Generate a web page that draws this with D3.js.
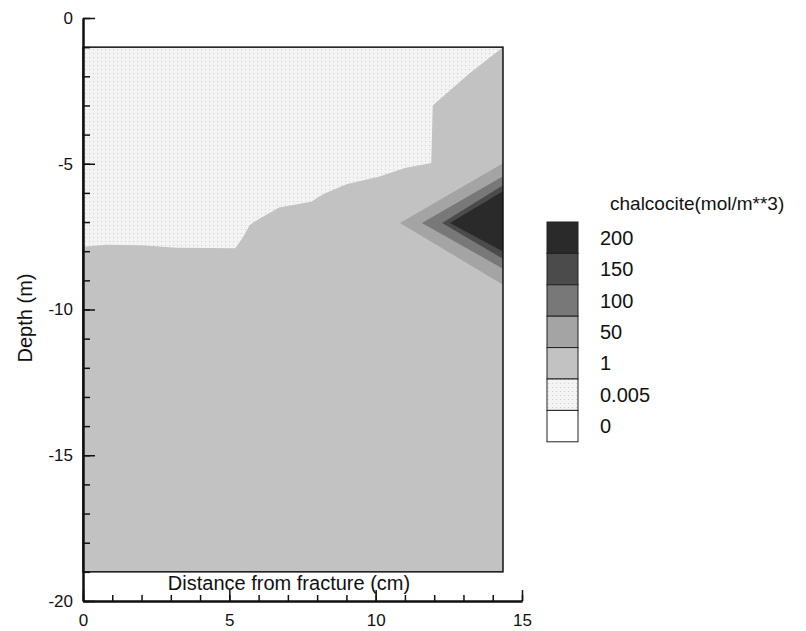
<!DOCTYPE html>
<html>
<head>
<meta charset="utf-8">
<script src="https://cdn.jsdelivr.net/npm/d3@7"></script>
<style>
  body { margin: 0; background: #fff; }
  text { font-family: "Liberation Sans", Arial, Helvetica, sans-serif; fill: #111; }
</style>
</head>
<body>
<div class="canvas"></div>
<script>
// contour levels, darkest first (legend order)
const levelLabels = ['200', '150', '100', '50', '1', '0.005', '0'];
const levelColors = ['#2a2a2a', '#4b4b4b', '#787878', '#a4a4a4', '#c2c2c2', '#f3f3f3', '#ffffff'];

// model domain (cm, m)
const xExtent = [0, 14.35];
const depthExtent = [-1, -19];

// region >= 1 : boundary with the upper 0.005 zone, then right/bottom edges
const region1 = [[0, -7.85], [0.8, -7.78], [2, -7.8], [3.2, -7.88], [5.2, -7.9], [5.45, -7.55],
  [5.7, -7.1], [6.0, -6.9], [6.7, -6.5], [7.8, -6.3], [8.2, -6.05], [9.0, -5.7], [10.1, -5.45],
  [11.0, -5.15], [11.9, -4.97], [11.95, -3.0], [13.2, -1.9], [14.35, -1.0], [14.35, -19], [0, -19]];

// nested wedges at the right edge
const region50 = [[10.83, -7.03], [14.35, -4.98], [14.35, -9.15]];
const region100 = [[11.58, -7.03], [14.35, -5.43], [14.35, -8.6]];
const region150 = [[12.27, -7.03], [14.35, -5.74], [14.35, -8.26]];
const region200 = [[12.54, -7.03], [14.35, -5.94], [14.35, -8.01]];

const xTicks = [0, 5, 10, 15];
const yTicks = [0, -5, -10, -15, -20];

const svg = d3.select('.canvas')
  .append('svg')
    .attr('width', 806)
    .attr('height', 631);

const x = d3.scaleLinear().domain([0, 15]).range([83, 522]);
const y = d3.scaleLinear().domain([0, -20]).range([18, 601]);

// dotted texture for the low zone
const defs = svg.append('defs');
const pat = defs.append('pattern')
  .attr('id', 'dots')
  .attr('width', 4).attr('height', 4)
  .attr('patternUnits', 'userSpaceOnUse');
pat.append('rect').attr('width', 4).attr('height', 4).attr('fill', levelColors[5]);
pat.append('rect').attr('x', 1).attr('y', 1).attr('width', 1).attr('height', 1).attr('fill', '#cfcfcf');

const line = d3.line().x(d => x(d[0])).y(d => y(d[1]));

// base: whole domain in the 0.005 level
svg.append('rect')
  .attr('x', x(xExtent[0]))
  .attr('y', y(depthExtent[0]))
  .attr('width', x(xExtent[1]) - x(xExtent[0]))
  .attr('height', y(depthExtent[1]) - y(depthExtent[0]))
  .attr('fill', 'url(#dots)');

const regions = [
  {poly: region1, color: levelColors[4]},
  {poly: region50, color: levelColors[3]},
  {poly: region100, color: levelColors[2]},
  {poly: region150, color: levelColors[1]},
  {poly: region200, color: levelColors[0]}
];

svg.append('g').selectAll('path')
  .data(regions)
  .enter()
  .append('path')
    .attr('d', d => line(d.poly) + 'Z')
    .attr('fill', d => d.color);

// domain frame
svg.append('rect')
  .attr('x', x(xExtent[0]))
  .attr('y', y(depthExtent[0]))
  .attr('width', x(xExtent[1]) - x(xExtent[0]))
  .attr('height', y(depthExtent[1]) - y(depthExtent[0]))
  .attr('fill', 'none')
  .attr('stroke', '#111')
  .attr('stroke-width', 1.5);

// axes, ticks pointing inward
const yAxisGroup = svg.append('g').attr('transform', `translate(${x(0)},0)`);
const yMinor = svg.append('g').attr('transform', `translate(${x(0)},0)`);
const xAxisGroup = svg.append('g').attr('transform', `translate(0,${y(-20)})`);
const xMinor = svg.append('g').attr('transform', `translate(0,${y(-20)})`);

const fmt = d => String(d); // plain hyphen minus, like the original

yMinor.call(d3.axisLeft(y).tickValues(d3.range(0, -21, -1)).tickSizeInner(-7).tickSizeOuter(0).tickFormat(''));
xMinor.call(d3.axisBottom(x).tickValues(d3.range(0, 16, 1)).tickSizeInner(-6).tickSizeOuter(0).tickFormat(''));

yAxisGroup.call(d3.axisLeft(y).tickValues(yTicks).tickSizeInner(-12).tickSizeOuter(0).tickPadding(10).tickFormat(fmt));
xAxisGroup.call(d3.axisBottom(x).tickValues(xTicks).tickSizeInner(-11).tickSizeOuter(0).tickPadding(13).tickFormat(fmt));

[yAxisGroup, xAxisGroup, yMinor, xMinor].forEach(g => {
  g.select('.domain').attr('stroke', '#111').attr('stroke-width', 2);
  g.selectAll('.tick line').attr('stroke', '#111').attr('stroke-width', 1.5);
  g.selectAll('.tick text').attr('font-size', 17).attr('fill', '#111')
    .style('font-family', '"Liberation Sans", Arial, sans-serif');
});

// axis titles
svg.append('text')
  .attr('x', 289)
  .attr('y', 590)
  .attr('text-anchor', 'middle')
  .attr('font-size', 20)
  .text('Distance from fracture (cm)');

svg.append('text')
  .attr('transform', 'translate(32,318) rotate(-90)')
  .attr('text-anchor', 'middle')
  .attr('font-size', 20)
  .text('Depth (m)');

// legend
const boxH = 31.4;
const legend = svg.append('g').attr('transform', 'translate(547,222)');

legend.append('text')
  .attr('x', 63)
  .attr('y', -12)
  .attr('font-size', 19)
  .text('chalcocite(mol/m**3)');

legend.selectAll('rect')
  .data(levelLabels)
  .enter()
  .append('rect')
    .attr('x', 0)
    .attr('y', (d, i) => i * boxH)
    .attr('width', 31)
    .attr('height', boxH)
    .attr('fill', (d, i) => i === 5 ? 'url(#dots)' : levelColors[i])
    .attr('stroke', '#222')
    .attr('stroke-width', 1);

legend.selectAll('.lab')
  .data(levelLabels)
  .enter()
  .append('text')
    .attr('class', 'lab')
    .attr('x', 53)
    .attr('y', (d, i) => i * boxH + boxH / 2)
    .attr('dy', '0.35em')
    .attr('font-size', 20)
    .text(d => d);
</script>
</body>
</html>
